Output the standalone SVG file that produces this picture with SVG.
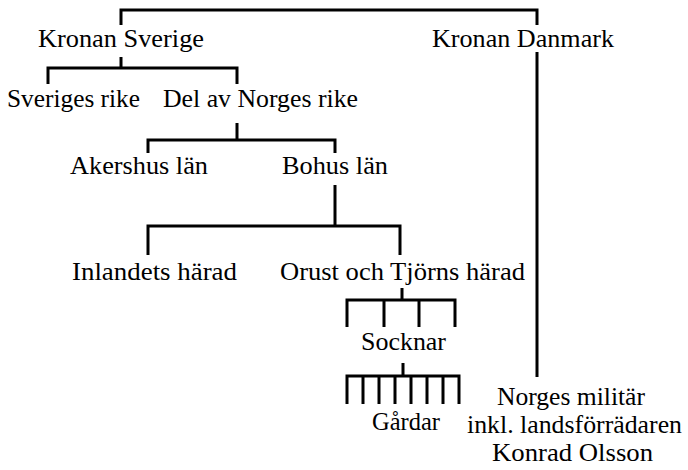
<svg xmlns="http://www.w3.org/2000/svg" width="688" height="470" viewBox="0 0 688 470">
  <style>
    .ln { fill: none; stroke: #000; stroke-width: 3; stroke-linecap: butt; stroke-linejoin: miter; }
  </style>
  <rect width="688" height="470" fill="#fff"/>

  <g id="connectors">
    <!-- root bracket -->
    <path class="ln" d="M121,25 V10 H537 V25"/>
    <!-- Kronan Danmark down to Norges militär -->
    <path class="ln" d="M537,52 V377"/>
    <!-- Kronan Sverige -> children -->
    <path class="ln" d="M121,57 V68 M48,84 V68 H237 V84"/>
    <!-- Del av Norges rike -> children -->
    <path class="ln" d="M237,123 V140 M148,153 V140 H335 V153"/>
    <!-- Bohus län -> children -->
    <path class="ln" d="M335,185 V226 M148,255 V226 H400 V255"/>
    <!-- Orust och Tjörns härad -> Socknar -->
    <path class="ln" d="M402,288 V300 M347,327 V300 H455 V327 M384,300 V327 M419,300 V327"/>
    <!-- Socknar -> Gårdar -->
    <path class="ln" d="M403,363 V376 M347,404 V376 H459 V404 M363,376 V404 M379,376 V404 M395,376 V404 M411,376 V404 M427,376 V404 M443,376 V404"/>
  </g>

  <g font-family="'Liberation Serif', 'DejaVu Serif', serif" font-size="26" fill="#000" text-anchor="middle">
    <g id="kronan-sverige"><text x="121" y="47" textLength="166" lengthAdjust="spacingAndGlyphs">Kronan Sverige</text></g>
    <g id="kronan-danmark"><text x="523" y="47" textLength="182" lengthAdjust="spacingAndGlyphs">Kronan Danmark</text></g>
    <g id="sveriges-rike"><text x="73.5" y="107" textLength="133" lengthAdjust="spacingAndGlyphs">Sveriges rike</text></g>
    <g id="del-av-norges-rike"><text x="260.5" y="107" textLength="195" lengthAdjust="spacingAndGlyphs">Del av Norges rike</text></g>
    <g id="akershus-lan"><text x="139" y="174" textLength="138" lengthAdjust="spacingAndGlyphs">Akershus län</text></g>
    <g id="bohus-lan"><text x="335" y="174" textLength="106" lengthAdjust="spacingAndGlyphs">Bohus län</text></g>
    <g id="inlandets-harad"><text x="154.5" y="280" textLength="165" lengthAdjust="spacingAndGlyphs">Inlandets härad</text></g>
    <g id="orust-tjorn"><text x="402.5" y="280" textLength="245" lengthAdjust="spacingAndGlyphs">Orust och Tjörns härad</text></g>
    <g id="socknar"><text x="403.5" y="350" textLength="85" lengthAdjust="spacingAndGlyphs">Socknar</text></g>
    <g id="gardar"><text x="406" y="430" textLength="68" lengthAdjust="spacingAndGlyphs">Gårdar</text></g>
    <g id="norges-militar">
      <text x="571" y="405" textLength="148" lengthAdjust="spacingAndGlyphs">Norges militär</text>
      <text x="574.5" y="433" textLength="215" lengthAdjust="spacingAndGlyphs">inkl. landsförrädaren</text>
      <text x="572.5" y="461" textLength="161" lengthAdjust="spacingAndGlyphs">Konrad Olsson</text>
    </g>
  </g>
</svg>
